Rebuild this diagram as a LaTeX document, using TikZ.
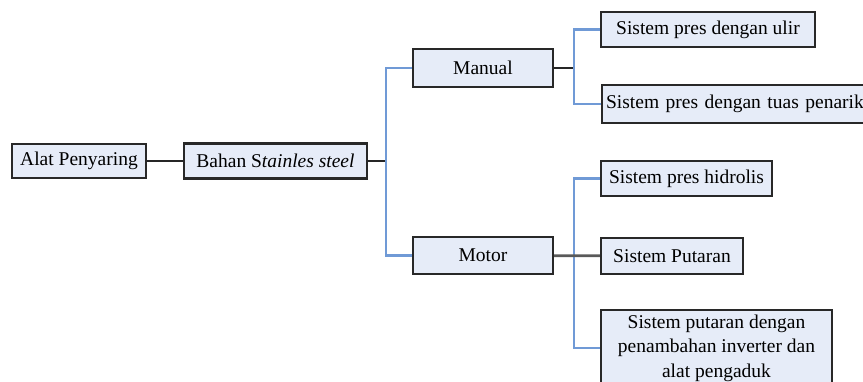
\documentclass[tikz,border=0pt]{standalone}
\usepackage{fontspec}
\setmainfont{Liberation Serif}
\usetikzlibrary{shadows}
\definecolor{boxfill}{RGB}{230,236,248}
\definecolor{boxline}{RGB}{40,40,40}
\definecolor{treeblue}{RGB}{112,154,214}
\tikzset{
  kotak/.style={draw=boxline, line width=2.2pt, fill=boxfill, inner sep=0pt,
    drop shadow={opacity=0.35, shadow xshift=1.2pt, shadow yshift=-1.2pt},
    font=\fontsize{19.5}{24.5}\selectfont},
  garis/.style={line width=2pt, draw=black!85},
  cabang/.style={line width=2.3pt, draw=treeblue}
}
\begin{document}
\begin{tikzpicture}[x=1pt,y=-1pt]
        \useasboundingbox (0,0) rectangle (863,382);
        \clip (0,0) rectangle (863,382);
        % level 1 and 2
        \node[kotak, minimum width=134, minimum height=34] (alat) at (79,161) {Alat Penyaring};
        \node[kotak, minimum width=183, minimum height=35] (bahan) at (275.5,161) {Bahan S\textit{tainles steel}};
        \node[kotak, minimum width=140, minimum height=38] (manual) at (483,68) {Manual};
        \node[kotak, minimum width=140, minimum height=37] (motor) at (483,255.5) {Motor};
        % cabang manual
        \node[kotak, minimum width=214, minimum height=35] (ulir) at (708,29.5) {Sistem pres dengan ulir};
        \node[kotak, anchor=west, text width=262, minimum height=38, inner xsep=4, align=left] (tuas) at (601,104) {Sistem pres dengan tuas penarik};
        % cabang motor
        \node[kotak, minimum width=171, minimum height=35] (hidrolis) at (686.5,178.5) {Sistem pres hidrolis};
        \node[kotak, minimum width=142, minimum height=36] (putaran) at (672,256) {Sistem Putaran};
        \node[kotak, minimum width=231, minimum height=76, align=center] (inverter) at (716.5,348) {Sistem putaran dengan\\penambahan inverter dan\\alat pengaduk};
        \coordinate (j1) at (386,161);
        \coordinate (j2) at (574,68);
        \coordinate (j3) at (574,256);
        \draw[garis] (alat) -- (bahan);
        \draw[garis] (bahan) -- (j1);
        \draw[cabang] (manual.west) -| (j1) |- (motor.west);
        \draw[garis] (manual) -- (j2);
        \draw[cabang] (ulir.west) -| (j2) |- (tuas.west);
        \draw[cabang] (hidrolis.west) -| (j3) |- (inverter.west);
        \draw[line width=2.8pt, draw=black!65] (motor) -- (putaran);
      \end{tikzpicture}
\end{document}
